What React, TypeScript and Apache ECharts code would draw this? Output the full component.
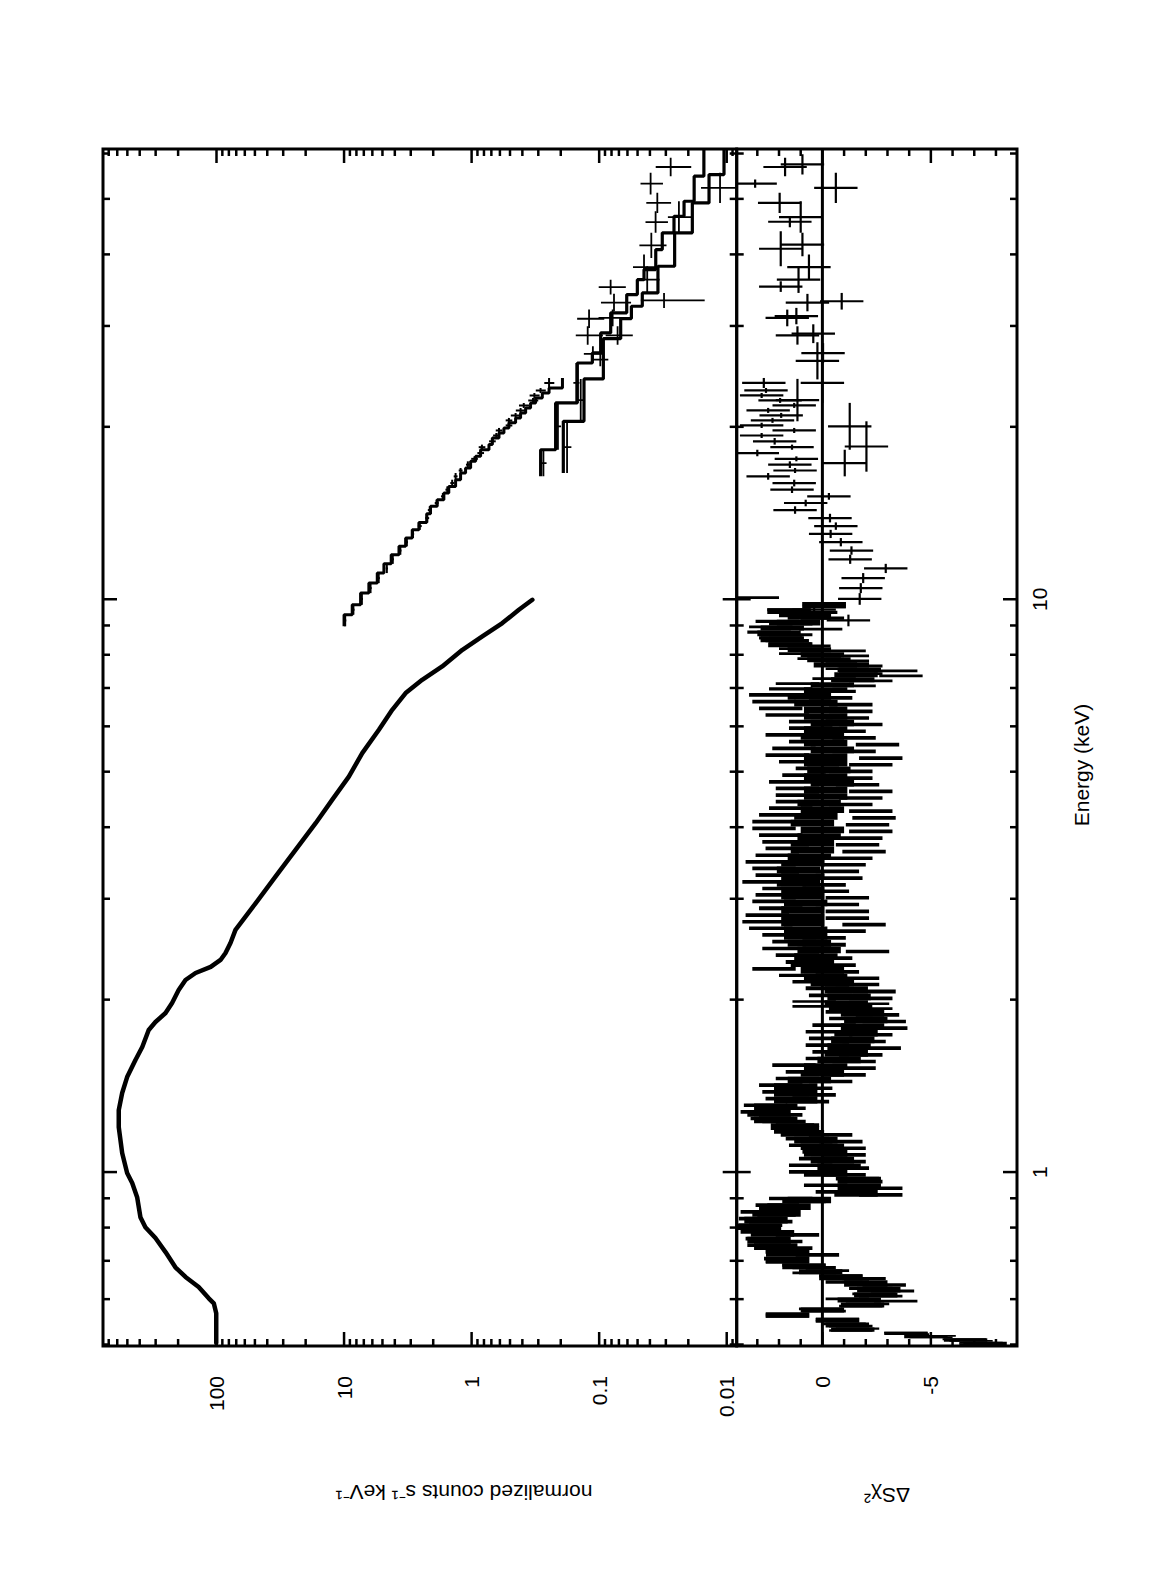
import React, { useEffect, useRef } from "react";
import * as echarts from "echarts";

// ---------- axis ranges ----------
const E_MIN = 0.497;
const E_MAX = 61.1;
const C_MIN = 0.00835;
const C_MAX = 776;
const R_MIN = -8.97;
const R_MAX = 3.95;

// ---------- dataset 1 (0.5-10 keV) ----------
const d1Energy = [0.503, 0.567, 0.59, 0.602, 0.63, 0.656, 0.682, 0.725, 0.767, 0.801, 0.834, 0.904, 0.957, 0.996, 1.08, 1.198, 1.283, 1.374, 1.465, 1.569, 1.653, 1.77, 1.828, 1.895, 1.973, 2.079, 2.164, 2.226, 2.281, 2.346, 2.413, 2.512, 2.647, 2.946, 3.28, 3.651, 4.065, 4.465, 4.903, 5.387, 5.917, 6.412, 6.859, 7.235, 7.632, 8.162, 8.61, 9.087, 9.587, 9.98];
const d1Counts = [100.5, 100.5, 105, 115, 138, 175, 210, 251, 301, 361, 395, 419, 458, 502, 549, 584, 584, 549, 502, 432, 382, 340, 301, 251, 223, 198, 175, 146, 111, 93, 85, 77.7, 71, 49.4, 34.5, 24.0, 16.7, 12.4, 9.17, 7.2, 5.33, 4.19, 3.29, 2.44, 1.7, 1.18, 0.824, 0.574, 0.426, 0.334];

// residuals of dataset 1: bin energies, and residuals of the bars at the left, middle, right of the band
const r1Energy = [10.0, 9.78, 9.52, 9.33, 9.09, 8.91, 8.73, 8.5, 8.33, 8.16, 8.0, 7.84, 7.68, 7.53, 7.38, 7.24, 7.09, 6.95, 6.77, 6.59, 6.41, 6.24, 6.08, 5.92, 5.76, 5.61, 5.46, 5.31, 5.17, 5.04, 4.9, 4.77, 4.65, 4.52, 4.41, 4.29, 4.18, 4.06, 3.96, 3.85, 3.75, 3.65, 3.55, 3.46, 3.37, 3.28, 3.19, 3.11, 3.03, 2.95, 2.87, 2.79, 2.72, 2.65, 2.58, 2.51, 2.44, 2.38, 2.31, 2.25, 2.19, 2.14, 2.08, 2.02, 1.97, 1.945, 1.893, 1.843, 1.794, 1.747, 1.701, 1.655, 1.612, 1.569, 1.528, 1.487, 1.448, 1.409, 1.372, 1.336, 1.3, 1.266, 1.233, 1.2, 1.168, 1.137, 1.107, 1.078, 1.049, 1.022, 0.995, 0.968, 0.943, 0.918, 0.894, 0.87, 0.847, 0.824, 0.803, 0.781, 0.761, 0.741, 0.721, 0.702, 0.683, 0.67, 0.656, 0.639, 0.622, 0.61, 0.598, 0.586, 0.574, 0.563, 0.551, 0.541, 0.53, 0.523, 0.516, 0.509, 0.502];
const r1Left = [3.0, -0.08, 1.54, 1.0, 2.08, 2.38, 2.46, 1.92, 1.46, 1.0, 1.0, 0.15, -1.15, -1.15, -1.77, -0.54, 1.15, 1.46, 2.38, 2.23, 1.92, 1.62, 0.54, 0.54, 1.62, 0.54, 1.31, 1.62, 1.0, 0.23, 0.85, 1.46, 1.15, 1.15, 1.15, 1.46, 1.92, 2.23, 2.23, 1.92, 1.77, 1.62, 2.08, 2.54, 2.23, 2.08, 2.69, 1.77, 2.08, 2.23, 1.92, 2.54, 2.69, 2.38, 1.77, 1.31, 1.77, 1.15, 0.69, 2.23, 1.0, 0.38, -0.23, -0.38, 0.38, 0.38, -1.15, -1.31, -0.54, -0.23, -0.38, -0.23, -0.54, -0.23, 1.31, 0.69, 1.15, 1.92, 1.77, 1.62, 2.62, 2.77, 2.31, 1.15, 1.23, 0.69, 0.54, -0.08, 0.08, 0.54, 0.54, -1.62, -0.15, -0.69, 1.46, 2.08, 2.77, 2.85, 2.85, 2.77, 2.54, 2.46, 1.62, 1.69, 0.85, -0.23, -0.85, -1.15, -2.23, -2.38, -1.15, -2.08, 0.08, 1.62, -0.69, -1.0, -1.62, -3.85, -5.15, -6.54, -7.31];
const r1Mid = [3.0, -0.08, 1.54, 0.6, 1.1, 1.85, 2.0, 1.85, 1.5, 0.6, 0, -0.3, -0.6, -1.7, -1.55, -1.4, -0.46, -0.15, 0.6, 0.3, -0.15, -0.15, -0.46, -0.15, 0, -0.15, -0.46, -0.15, -0.15, -0.3, -0.15, -0.46, -0.15, -0.15, 0.15, 0, 0.3, 0.46, 0, 0.15, 0.46, 0.46, 0.6, 0.9, 1.1, 0.9, 1.1, 0.9, 0.9, 0.77, 0.9, 0.9, 0.9, 0.77, 0.77, 0.6, 0.15, 0.3, 0.46, 0, -0.15, -0.46, -1.1, -1.23, -1.1, -1.3, -1.85, -2.0, -1.85, -1.55, -1.4, -1.23, -1.1, -0.77, -0.15, 0, 0.6, 1.23, 1.23, 1.23, 2.15, 2.46, 2.15, 1.38, 0.92, 0.3, 0, -0.15, -0.46, -0.77, -0.15, -1.7, -1.7, -1.55, 0.6, 1.54, 2.0, 2.6, 2.9, 2.3, 2.46, 2.15, 1.6, 1.6, 0.85, 0.08, -0.85, -2.0, -2.6, -2.46, -1.7, -1.85, 0, 1.6, -0.7, -1.15, -1.4, -3.85, -4.77, -6.6, -7.5];
const r1Right = [3.0, -0.08, 0.31, 0.0, 1.46, 0.08, 1.46, 1.62, 0.62, -1.0, -1.15, -1.15, -1.77, -3.38, -3.62, -2.23, -1.46, -0.54, -0.38, -1.31, -1.31, -1.15, -1.77, -1.0, -1.46, -2.54, -1.46, -2.69, -2.23, -1.31, -1.31, -1.62, -2.23, -1.77, -1.31, -2.23, -2.38, -2.08, -2.23, -1.77, -1.62, -1.92, -1.31, -1.0, -0.69, -0.85, -0.08, -0.23, -1.15, -0.69, -1.15, -1.15, -1.92, -1.0, -0.08, -0.08, -2.08, -0.38, -0.54, -0.69, -1.62, -1.62, -2.38, -2.23, -2.08, -2.23, -2.54, -2.85, -2.92, -2.23, -1.92, -2.62, -1.77, -1.46, -1.46, -1.0, -0.38, 0.54, 0.38, 0.69, 1.77, 1.92, 1.77, 1.15, -0.38, -0.85, -1.0, -1.0, -1.0, -1.15, -1.0, -1.77, -2.69, -2.69, 0.85, 1.92, 2.23, 2.38, 3.0, 1.15, 1.92, 1.46, 0.23, 1.62, 0.38, 0.38, -1.92, -2.85, -3.23, -2.69, -3.38, -1.77, -0.08, 1.62, -0.69, -1.31, -1.31, -3.92, -5.0, -6.85, -7.31];

// ---------- dataset 2 (9-24 keV) ----------
const d2Edges = [8.97, 9.4, 9.78, 10.25, 10.67, 11.11, 11.53, 11.96, 12.37, 12.79, 13.22, 13.62, 14.1, 14.53, 14.92, 15.33, 15.74, 16.17, 16.61, 16.95, 17.41, 17.76, 18.24, 18.62, 19.12, 19.51, 19.91, 20.32, 20.73, 21.15, 21.58, 22.02, 22.46, 22.92, 23.38, 24.34];
const d2Model = [10.0, 8.63, 7.42, 6.39, 5.49, 4.87, 4.27, 3.71, 3.29, 2.92, 2.59, 2.25, 2.1, 1.86, 1.65, 1.51, 1.335, 1.22, 1.115, 1.018, 0.93, 0.85, 0.731, 0.688, 0.61, 0.558, 0.51, 0.452, 0.413, 0.377, 0.345, 0.315, 0.279, 0.247, 0.194];
const d2Data = [9.8, 8.45, 7.25, 6.2, 5.35, 4.62, 4.15, 3.62, 3.22, 2.88, 2.55, 2.23, 2.13, 1.88, 1.68, 1.55, 1.42, 1.335, 1.22, 1.07, 0.95, 0.85, 0.83, 0.688, 0.64, 0.61, 0.51, 0.51, 0.452, 0.413, 0.39, 0.33, 0.322, 0.288, 0.247];
const d2RelErr = [0.02, 0.02, 0.02, 0.02, 0.02, 0.02, 0.02, 0.02, 0.02, 0.02, 0.035, 0.035, 0.035, 0.035, 0.035, 0.035, 0.035, 0.035, 0.035, 0.035, 0.06, 0.06, 0.06, 0.06, 0.06, 0.06, 0.06, 0.06, 0.09, 0.09, 0.09, 0.09, 0.09, 0.09, 0.09];
const d2Resid = [-1.2, 0.38, -1.72, -1.77, -1.88, -2.92, -1.28, -1.34, -0.85, -0.38, -0.62, -0.35, 1.26, 0.77, -0.3, 1.4, 1.3, 2.5, 1.26, 1.5, 1.2, 3.0, 1.4, 2.2, 2.8, 1.3, 2.8, 2.3, 1.9, 2.5, 1.3, 1.95, 2.8, 2.6, 2.7];

// ---------- high-energy models (16-61 keV) ----------
const mAEdges = [16.39, 18.24, 22.02, 25.85, 26.92, 29.17, 31.62, 34.03, 36.14, 37.63, 40.78, 43.62, 46.63, 49.53, 54.78, 61.1];
const mAValues = [0.2876, 0.2194, 0.1483, 0.1131, 0.0973, 0.0812, 0.0608, 0.0502, 0.0445, 0.036, 0.032, 0.0259, 0.0216, 0.018, 0.0151];
const mBEdges = [16.61, 20.45, 24.25, 28.5, 30.9, 32.47, 34.26, 38.14, 43.62, 49.2, 55.14, 61.1];
const mBValues = [0.191, 0.1315, 0.0927, 0.0678, 0.0559, 0.0459, 0.0346, 0.0256, 0.0186, 0.01376, 0.0105];

// high-energy data points: bin low, bin high, value, relative error
const hiLo = [54.78, 50.88, 49.2, 47.26, 43.62, 43.62, 39.44, 36.14, 34.26, 34.03, 32.26, 31.82, 29.76, 29.96, 27.83, 27.83, 26.03, 25.51, 22.02, 20.45, 18.24, 16.61, 16.39];
const hiHi = [58.97, 55.51, 55.51, 51.23, 47.58, 49.53, 43.62, 39.98, 38.14, 36.14, 34.26, 34.13, 32.04, 32.04, 29.96, 29.96, 27.64, 26.92, 25.85, 24.25, 22.02, 20.45, 18.24];
const hiVal = [0.0275, 0.0395, 0.01128, 0.035, 0.0361, 0.0237, 0.039, 0.0445, 0.042, 0.0813, 0.031, 0.0765, 0.12, 0.0784, 0.123, 0.0717, 0.112, 0.098, 0.151, 0.1395, 0.2105, 0.1785, 0.2735];
const hiRelErr = [0.31, 0.2, 0.41, 0.22, 0.2, 0.22, 0.24, 0.22, 0.2, 0.24, 0.52, 0.265, 0.24, 0.29, 0.24, 0.24, 0.177, 0.135, 0.055, 0.055, 0.055, 0.075, 0.055];

// high-energy residuals: bin low, bin high, residual
const hrLo = [54.78, 55.14, 52.3, 49.2, 47.26, 43.62, 44.6, 38.14, 39.7, 36.14, 34.26, 34.4, 31.82, 32.04, 29.96, 30.2, 27.83, 28.0, 25.85, 24.2, 22.02, 20.45, 18.24, 16.7, 16.39];
const hrHi = [58.97, 59.8, 54.05, 55.51, 51.23, 49.53, 46.63, 43.9, 43.62, 39.98, 38.14, 35.9, 34.13, 34.26, 32.04, 32.26, 29.96, 30.2, 28.0, 28.1, 25.85, 24.25, 22.02, 20.45, 18.24];
const hrVal = [1.72, 0.92, 3.1, -0.62, 1.97, 1.0, 1.5, 1.92, 0.92, 0.62, 1.1, 1.92, 0.69, -0.89, 1.62, 1.2, 1.15, 0.42, -0.03, 0.23, 0.0, 1.15, -1.26, -2.03, -1.03];

// ---------- ticks and labels ----------
const energyMinorTicks = [0.5, 0.6, 0.7, 0.8, 0.9, 2, 3, 4, 5, 6, 7, 8, 9, 20, 30, 40, 50, 60];
const energyMajorTicks = [1, 10];
const countMinorTicks = [0.009, 0.02, 0.03, 0.04, 0.05, 0.06, 0.07, 0.08, 0.09, 0.2, 0.3, 0.4, 0.5, 0.6, 0.7, 0.8, 0.9, 2, 3, 4, 5, 6, 7, 8, 9, 20, 30, 40, 50, 60, 70, 80, 90, 200, 300, 400, 500, 600, 700];
const countMajorTicks = [0.01, 0.1, 1, 10, 100];
const residMinorTicks = [-8, -7, -6, -4, -3, -2, -1, 1, 2, 3];
const residMajorTicks = [-5, 0];
const energyLabelValues = [1, 10];
const energyLabelTexts = ["1", "10"];
const countLabelValues = [0.01, 0.1, 1, 10, 100];
const countLabelTexts = ["0.01", "0.1", "1", "10", "100"];
const residLabelValues = [0, -5];
const residLabelTexts = ["0", "-5"];

const FONT = '"Liberation Sans", Arial, Helvetica, sans-serif';
const FS = 21;
const INK = "#000";

function stepPoints(edges: number[], vals: number[]) {
  const pts: number[][] = [];
  vals.forEach((v, i) => {
    pts.push([edges[i], v], [edges[i + 1], v]);
  });
  return pts;
}

type Tick = { axis: "x" | "y"; v: number; major: boolean };

function tickSeries(grid: number, ticks: Tick[], xr: number[], yr: number[]) {
  return {
    type: "custom",
    xAxisIndex: grid,
    yAxisIndex: grid,
    clip: false,
    silent: true,
    z: 20,
    data: ticks.map((t) => (t.axis === "x" ? [t.v, yr[0]] : [xr[0], t.v])),
    renderItem: (params: any, api: any) => {
      const t = ticks[params.dataIndex];
      const len = t.major ? 14 : 7;
      const st = { stroke: INK, lineWidth: 2.5 };
      if (t.axis === "x") {
        const a = api.coord([t.v, yr[0]]);
        const b = api.coord([t.v, yr[1]]);
        return {
          type: "group",
          children: [
            { type: "line", shape: { x1: a[0], y1: a[1], x2: a[0], y2: a[1] - len }, style: st },
            { type: "line", shape: { x1: b[0], y1: b[1], x2: b[0], y2: b[1] + len }, style: st },
          ],
        };
      }
      const a = api.coord([xr[0], t.v]);
      const b = api.coord([xr[1], t.v]);
      return {
        type: "group",
        children: [
          { type: "line", shape: { x1: a[0], y1: a[1], x2: a[0] + len, y2: a[1] }, style: st },
          { type: "line", shape: { x1: b[0], y1: b[1], x2: b[0] - len, y2: b[1] }, style: st },
        ],
      };
    },
  };
}

function labelSeries(grid: number, pts: number[][], texts: string[], dx: number, dy: number, align: string, valign: string) {
  return {
    type: "custom",
    xAxisIndex: grid,
    yAxisIndex: grid,
    clip: false,
    silent: true,
    z: 20,
    data: pts,
    renderItem: (params: any, api: any) => {
      const p = api.coord(pts[params.dataIndex]);
      return {
        type: "text",
        x: p[0] + dx,
        y: p[1] + dy,
        style: {
          text: texts[params.dataIndex],
          fill: INK,
          fontSize: FS,
          fontFamily: FONT,
          align,
          verticalAlign: valign,
          textAlign: align,
          textVerticalAlign: valign,
        },
      };
    },
  };
}

function crossSeries(grid: number, lo: number[], hi: number[], val: number[], errLo: number[], errHi: number[], lw: number) {
  return {
    type: "custom",
    xAxisIndex: grid,
    yAxisIndex: grid,
    clip: true,
    silent: true,
    z: 5,
    data: val.map((v, i) => [Math.sqrt(lo[i] * hi[i]), v]),
    renderItem: (params: any, api: any) => {
      const i = params.dataIndex;
      const ec = Math.sqrt(lo[i] * hi[i]);
      const a = api.coord([lo[i], val[i]]);
      const b = api.coord([hi[i], val[i]]);
      const c = api.coord([ec, errLo[i]]);
      const d = api.coord([ec, errHi[i]]);
      const st = { stroke: INK, lineWidth: lw };
      return {
        type: "group",
        children: [
          { type: "line", shape: { x1: a[0], y1: a[1], x2: b[0], y2: b[1] }, style: st },
          { type: "line", shape: { x1: c[0], y1: c[1], x2: d[0], y2: d[1] }, style: st },
        ],
      };
    },
  };
}

function buildOption() {
  const mainTicks: Tick[] = [
    ...energyMinorTicks.map((v) => ({ axis: "x" as const, v, major: false })),
    ...energyMajorTicks.map((v) => ({ axis: "x" as const, v, major: true })),
    ...countMinorTicks.map((v) => ({ axis: "y" as const, v, major: false })),
    ...countMajorTicks.map((v) => ({ axis: "y" as const, v, major: true })),
  ];
  const resTicks: Tick[] = [
    ...energyMinorTicks.map((v) => ({ axis: "x" as const, v, major: false })),
    ...energyMajorTicks.map((v) => ({ axis: "x" as const, v, major: true })),
    ...residMinorTicks.map((v) => ({ axis: "y" as const, v, major: false })),
    ...residMajorTicks.map((v) => ({ axis: "y" as const, v, major: true })),
  ];

  const hidden = {
    axisLine: { show: false },
    axisTick: { show: false },
    axisLabel: { show: false },
    splitLine: { show: false },
  };

  const d2Lo = d2Edges.slice(0, -1);
  const d2Hi = d2Edges.slice(1);
  const d2ErrLo = d2Data.map((v, i) => v * (1 - d2RelErr[i]));
  const d2ErrHi = d2Data.map((v, i) => v * (1 + d2RelErr[i]));
  const hiErrLo = hiVal.map((v, i) => v * (1 - hiRelErr[i]));
  const hiErrHi = hiVal.map((v, i) => v * (1 + hiRelErr[i]));
  const d2ResLo = d2Resid.map((r) => r - 1);
  const d2ResHi = d2Resid.map((r) => r + 1);
  const hrErrLo = hrVal.map((r) => r - 1);
  const hrErrHi = hrVal.map((r) => r + 1);

  const n1 = r1Energy.length;
  const band = {
    type: "custom",
    xAxisIndex: 1,
    yAxisIndex: 1,
    clip: true,
    silent: true,
    z: 4,
    data: r1Energy.map((e, i) => [e, r1Mid[i]]),
    renderItem: (params: any, api: any) => {
      const i = params.dataIndex;
      const e = r1Energy[i];
      const up = i > 0 ? Math.sqrt(r1Energy[i - 1] * e) : e * Math.sqrt(e / r1Energy[i + 1]);
      const dn = i < n1 - 1 ? Math.sqrt(r1Energy[i + 1] * e) : e * Math.sqrt(e / r1Energy[i - 1]);
      let xa = api.coord([dn, 0])[0];
      let xb = api.coord([up, 0])[0];
      if (i === 0) xa = xb - 2.5;
      const w = xb - xa;
      const rect = (x0: number, x1: number, r: number) => {
        const t = api.coord([e, r + 1])[1];
        const b = api.coord([e, r - 1])[1];
        return { type: "rect", shape: { x: x0, y: t, width: Math.max(x1 - x0, 0.8), height: b - t }, style: { fill: INK } };
      };
      return {
        type: "group",
        children: [
          rect(xa, xb, r1Mid[i]),
          rect(xa + w * 0.45, xb, r1Left[i]),
          rect(xa, xa + w * 0.55, r1Right[i]),
        ],
      };
    },
  };

  return {
    animation: false,
    backgroundColor: "#fff",
    textStyle: { fontFamily: FONT },
    grid: [
      { left: 229, top: 103, width: 1197, height: 633.7, show: true, borderColor: INK, borderWidth: 3, backgroundColor: "transparent" },
      { left: 229, top: 736.7, width: 1197, height: 280.3, show: true, borderColor: INK, borderWidth: 3, backgroundColor: "transparent" },
    ],
    xAxis: [
      { type: "log", logBase: 10, gridIndex: 0, min: E_MIN, max: E_MAX, ...hidden },
      { type: "log", logBase: 10, gridIndex: 1, min: E_MIN, max: E_MAX, ...hidden },
    ],
    yAxis: [
      { type: "log", logBase: 10, gridIndex: 0, min: C_MIN, max: C_MAX, ...hidden },
      { type: "value", gridIndex: 1, min: R_MIN, max: R_MAX, ...hidden },
    ],
    graphic: [
      {
        type: "text",
        x: 810,
        y: 1081,
        silent: true,
        style: { text: "Energy (keV)", fill: INK, fontSize: FS, fontFamily: FONT, align: "center", verticalAlign: "middle", textAlign: "center", textVerticalAlign: "middle" },
      },
      {
        type: "text",
        x: 83,
        y: 464,
        rotation: Math.PI / 2,
        silent: true,
        style: { text: "normalized counts s⁻¹ keV⁻¹", fill: INK, fontSize: FS, fontFamily: FONT, align: "center", verticalAlign: "middle", textAlign: "center", textVerticalAlign: "middle" },
      },
      {
        type: "text",
        x: 80,
        y: 887,
        rotation: Math.PI / 2,
        silent: true,
        style: { text: "ΔSχ²", fill: INK, fontSize: FS, fontFamily: FONT, align: "center", verticalAlign: "middle", textAlign: "center", textVerticalAlign: "middle" },
      },
    ],
    series: [
      {
        type: "line",
        name: "data 1",
        xAxisIndex: 0,
        yAxisIndex: 0,
        data: d1Energy.map((e, i) => [e, d1Counts[i]]),
        showSymbol: false,
        silent: true,
        lineStyle: { color: INK, width: 4.5, join: "round", cap: "round" },
        z: 3,
      },
      {
        type: "line",
        name: "model 2",
        xAxisIndex: 0,
        yAxisIndex: 0,
        data: stepPoints(d2Edges, d2Model),
        showSymbol: false,
        silent: true,
        lineStyle: { color: INK, width: 3 },
        z: 3,
      },
      crossSeries(0, d2Lo, d2Hi, d2Data, d2ErrLo, d2ErrHi, 2),
      {
        type: "line",
        name: "model A",
        xAxisIndex: 0,
        yAxisIndex: 0,
        data: stepPoints(mAEdges, mAValues),
        showSymbol: false,
        silent: true,
        lineStyle: { color: INK, width: 3.2 },
        z: 3,
      },
      {
        type: "line",
        name: "model B",
        xAxisIndex: 0,
        yAxisIndex: 0,
        data: stepPoints(mBEdges, mBValues),
        showSymbol: false,
        silent: true,
        lineStyle: { color: INK, width: 3.2 },
        z: 3,
      },
      crossSeries(0, hiLo, hiHi, hiVal, hiErrLo, hiErrHi, 1.8),
      {
        type: "line",
        name: "zero",
        xAxisIndex: 1,
        yAxisIndex: 1,
        data: [
          [E_MIN, 0],
          [E_MAX, 0],
        ],
        showSymbol: false,
        silent: true,
        lineStyle: { color: INK, width: 3 },
        z: 6,
      },
      band,
      {
        ...crossSeries(1, d2Lo, d2Hi, d2Resid, d2ResLo, d2ResHi, 2),
        renderItem: (params: any, api: any) => {
          const i = params.dataIndex;
          const ec = Math.sqrt(d2Lo[i] * d2Hi[i]);
          const a = api.coord([d2Lo[i], d2Resid[i]]);
          const b = api.coord([d2Hi[i], d2Resid[i]]);
          const c = api.coord([ec, d2ResLo[i]]);
          const d = api.coord([ec, d2ResHi[i]]);
          const st = { stroke: INK, lineWidth: 2.2 };
          return {
            type: "group",
            children: [
              { type: "line", shape: { x1: a[0], y1: a[1], x2: b[0], y2: b[1] }, style: st },
              { type: "line", shape: { x1: c[0], y1: c[1], x2: d[0], y2: d[1] }, style: st },
            ],
          };
        },
      },
      crossSeries(1, hrLo, hrHi, hrVal, hrErrLo, hrErrHi, 2.2),
      tickSeries(0, mainTicks, [E_MIN, E_MAX], [C_MIN, C_MAX]),
      tickSeries(1, resTicks, [E_MIN, E_MAX], [R_MIN, R_MAX]),
      labelSeries(0, countLabelValues.map((v) => [E_MIN, v]), countLabelTexts, -30, 0, "right", "middle"),
      labelSeries(1, residLabelValues.map((v) => [E_MIN, v]), residLabelTexts, -30, 0, "right", "middle"),
      labelSeries(1, energyLabelValues.map((v) => [v, R_MIN]), energyLabelTexts, 0, 12, "center", "top"),
    ],
  };
}

export default function App() {
  const ref = useRef<HTMLDivElement>(null);
  useEffect(() => {
    if (!ref.current) return;
    const chart = echarts.init(ref.current, null, { renderer: "svg" });
    chart.setOption(buildOption() as any);
    return () => {
      chart.dispose();
    };
  }, []);
  return (
    <div style={{ position: "fixed", left: 0, top: 0, width: 1171, height: 1575, overflow: "hidden", background: "#fff" }}>
      <div
        ref={ref}
        style={{
          position: "absolute",
          left: 0,
          top: 0,
          width: 1575,
          height: 1171,
          transformOrigin: "0 0",
          transform: "translateY(1575px) rotate(-90deg)",
        }}
      />
    </div>
  );
}
